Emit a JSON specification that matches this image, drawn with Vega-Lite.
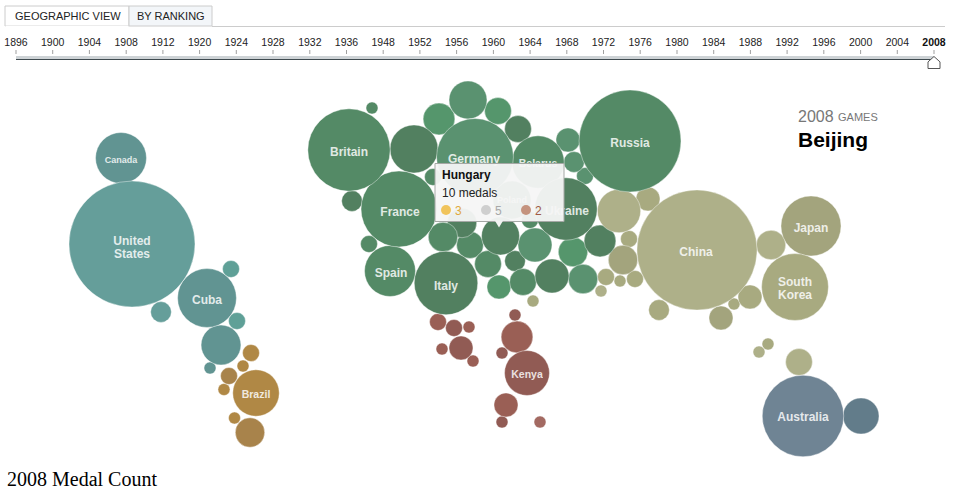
{
"$schema":"https://vega.github.io/schema/vega-lite/v6.json",
"width":955,"height":496,"padding":0,
"autosize":{"type":"fit","contains":"padding"},
"background":"#ffffff",
"view":{"stroke":null},
"config":{"text":{"font":"Liberation Sans"}},
"datasets":{
"bubbles":[
{"c":"Canada","g":"N2","x":121,"y":158,"m":18},
{"c":"United States","g":"N1","x":132,"y":244,"m":110},
{"c":"Dominican Republic","g":"N3","x":231,"y":269,"m":2},
{"c":"Mexico","g":"N1","x":161,"y":312,"m":3},
{"c":"Cuba","g":"N2","x":207,"y":298,"m":24},
{"c":"Trinidad","g":"N3","x":237,"y":321,"m":2},
{"c":"Jamaica","g":"N2","x":221,"y":345,"m":11},
{"c":"Panama","g":"N2","x":210,"y":368,"m":1},
{"c":"Colombia","g":"S1","x":251,"y":353,"m":2},
{"c":"Venezuela","g":"S1","x":243,"y":366,"m":1},
{"c":"Ecuador","g":"S2","x":229,"y":376,"m":2},
{"c":"Chile","g":"S1","x":224,"y":389.5,"m":1},
{"c":"Brazil","g":"S1","x":256,"y":393,"m":15},
{"c":"Paraguay","g":"S1","x":234.5,"y":418,"m":1},
{"c":"Argentina","g":"S2","x":250,"y":432.5,"m":6},
{"c":"Britain","g":"E2","x":349,"y":150,"m":47},
{"c":"Iceland","g":"E2","x":372,"y":108,"m":1},
{"c":"Ireland","g":"E3","x":352,"y":201,"m":3},
{"c":"France","g":"E2","x":399,"y":209,"m":40},
{"c":"Spain","g":"E2","x":390,"y":271,"m":18},
{"c":"Portugal","g":"E2","x":369,"y":244,"m":2},
{"c":"Netherlands","g":"E3","x":414,"y":149,"m":16},
{"c":"Belgium","g":"E2","x":433,"y":177,"m":2},
{"c":"Norway","g":"E1","x":468,"y":100,"m":10},
{"c":"Sweden","g":"E4","x":439,"y":119,"m":7},
{"c":"Finland","g":"E4","x":498,"y":111,"m":5},
{"c":"Estonia","g":"E3","x":518,"y":129,"m":5},
{"c":"Germany","g":"E1","x":475,"y":157,"m":41},
{"c":"Lithuania","g":"E1","x":568,"y":140,"m":4},
{"c":"Latvia","g":"E1","x":574,"y":162,"m":3},
{"c":"Slovakia Two","g":"E1","x":585,"y":176,"m":2},
{"c":"Belarus","g":"E2","x":538,"y":162,"m":19},
{"c":"Russia","g":"E2","x":630,"y":141,"m":72},
{"c":"Denmark","g":"E3","x":462,"y":223,"m":6},
{"c":"Poland","g":"E2","x":512,"y":200,"m":10},
{"c":"Slovakia","g":"E2","x":530,"y":220,"m":2},
{"c":"Ukraine","g":"E3","x":566,"y":209,"m":27},
{"c":"Switzerland","g":"E2","x":443,"y":237,"m":6},
{"c":"Austria","g":"E2","x":470,"y":245,"m":5},
{"c":"Hungary","g":"E3","x":500.5,"y":236,"m":10},
{"c":"Romania","g":"E1","x":535,"y":245,"m":8},
{"c":"Georgia","g":"E4","x":573,"y":252,"m":6},
{"c":"Azerbaijan","g":"E3","x":600,"y":241,"m":7},
{"c":"Slovenia","g":"E2","x":488,"y":264,"m":5},
{"c":"Croatia","g":"E3","x":515,"y":261,"m":3},
{"c":"Serbia","g":"E4","x":499,"y":287,"m":4},
{"c":"Bulgaria","g":"E2","x":523,"y":282,"m":5},
{"c":"Greece","g":"E3","x":552,"y":276,"m":8},
{"c":"Armenia","g":"E1","x":583,"y":279,"m":6},
{"c":"Italy","g":"E3","x":446,"y":283,"m":28},
{"c":"Turkey","g":"A2","x":533,"y":301,"m":1},
{"c":"China","g":"A1","x":697,"y":250,"m":100},
{"c":"Japan","g":"A3","x":811,"y":226,"m":25},
{"c":"South Korea","g":"A2","x":795,"y":287,"m":31},
{"c":"North Korea","g":"A1","x":771,"y":245,"m":6},
{"c":"Taiwan","g":"A2","x":750,"y":297,"m":4},
{"c":"Vietnam","g":"A2","x":734,"y":304,"m":1},
{"c":"Thailand","g":"A3","x":721,"y":318,"m":4},
{"c":"India","g":"A2","x":659,"y":310,"m":3},
{"c":"Kazakhstan","g":"A1","x":619,"y":211,"m":13},
{"c":"Mongolia","g":"A2","x":648,"y":199,"m":4},
{"c":"Kyrgyzstan","g":"A2","x":629,"y":239,"m":2},
{"c":"Uzbekistan","g":"A3","x":623,"y":260,"m":6},
{"c":"Iran","g":"A2","x":606,"y":277,"m":2},
{"c":"Tajikistan","g":"A2","x":620,"y":281,"m":1},
{"c":"Afghanistan","g":"A2","x":635,"y":279,"m":2},
{"c":"Israel","g":"A1","x":601,"y":291,"m":1},
{"c":"Malaysia","g":"A2","x":768,"y":344,"m":1},
{"c":"Singapore","g":"A1","x":759,"y":352,"m":1},
{"c":"Indonesia","g":"A1","x":799,"y":362,"m":5},
{"c":"Morocco","g":"F1","x":438,"y":322,"m":2},
{"c":"Algeria","g":"F2","x":454,"y":328,"m":2},
{"c":"Tunisia","g":"F1","x":469,"y":327,"m":1},
{"c":"Togo","g":"F1","x":442,"y":349,"m":1},
{"c":"Nigeria","g":"F2","x":461,"y":348,"m":4},
{"c":"Cameroon","g":"F1","x":473,"y":361,"m":1},
{"c":"Egypt","g":"F2","x":515,"y":315,"m":1},
{"c":"Ethiopia","g":"F1","x":517,"y":337,"m":7},
{"c":"Sudan","g":"F2","x":502,"y":353,"m":1},
{"c":"Kenya","g":"F2","x":527,"y":373,"m":14},
{"c":"Zimbabwe","g":"F1","x":506,"y":405,"m":4},
{"c":"South Africa","g":"F2","x":502,"y":422,"m":1},
{"c":"Mauritius","g":"F3","x":540,"y":422,"m":1},
{"c":"Australia","g":"O1","x":803,"y":416,"m":46},
{"c":"New Zealand","g":"O2","x":861,"y":416,"m":9}
],
"labels":[
{"t":"Canada","x":121,"y":160,"k":"s"},
{"t":"United\nStates","x":132,"y":241,"k":"m"},
{"t":"Cuba","x":207,"y":300,"k":"m"},
{"t":"Brazil","x":256,"y":395,"k":"b"},
{"t":"Britain","x":349,"y":152,"k":"m"},
{"t":"France","x":400,"y":212,"k":"m"},
{"t":"Spain","x":391,"y":273,"k":"m"},
{"t":"Italy","x":446,"y":286,"k":"m"},
{"t":"Germany","x":474,"y":159,"k":"m"},
{"t":"Belarus","x":538,"y":164,"k":"b"},
{"t":"Russia","x":630,"y":143,"k":"m"},
{"t":"Poland","x":512,"y":200,"k":"s"},
{"t":"Ukraine","x":567,"y":211,"k":"m"},
{"t":"China","x":696,"y":252,"k":"m"},
{"t":"Japan","x":811,"y":228,"k":"m"},
{"t":"South\nKorea","x":795,"y":282,"k":"m"},
{"t":"Australia","x":803,"y":417,"k":"m"},
{"t":"Kenya","x":527,"y":375,"k":"b"}
],
"years":[
{"year":"1896","p":16},{"year":"1900","p":52.7},{"year":"1904","p":89.4},{"year":"1908","p":126.2},{"year":"1912","p":162.9},{"year":"1920","p":199.6},{"year":"1924","p":236.3},{"year":"1928","p":273},{"year":"1932","p":309.8},{"year":"1936","p":346.5},{"year":"1948","p":383.2},{"year":"1952","p":419.9},{"year":"1956","p":456.6},{"year":"1960","p":493.4},{"year":"1964","p":530.1},{"year":"1968","p":566.8},{"year":"1972","p":603.5},{"year":"1976","p":640.2},{"year":"1980","p":677},{"year":"1984","p":713.7},{"year":"1988","p":750.4},{"year":"1992","p":787.1},{"year":"1996","p":823.8},{"year":"2000","p":860.6},{"year":"2004","p":897.3},{"year":"2008","p":934}
]
},
"layer":[
{"data":{"values":[{"a":5,"b":129,"t":6,"u":26,"f":"#ffffff"},{"a":129,"b":212,"t":6,"u":26,"f":"#f3f6f9"}]},
 "mark":{"type":"rect","stroke":"#cccccc","strokeWidth":1},
 "encoding":{"x":{"field":"a","type":"quantitative","scale":{"domain":[0,955],"nice":false},"axis":null},"x2":{"field":"b"},"y":{"field":"t","type":"quantitative","scale":{"domain":[0,496],"reverse":true,"nice":false},"axis":null},"y2":{"field":"u"},"fill":{"field":"f","type":"nominal","scale":null,"legend":null}}},
{"data":{"values":[{"a":212,"b":945,"y":26.5}]},
 "mark":{"type":"rule","stroke":"#cccccc","strokeWidth":1},
 "encoding":{"x":{"field":"a","type":"quantitative"},"x2":{"field":"b"},"y":{"field":"y","type":"quantitative"}}},
{"data":{"values":[{"a":5.5,"b":128.5,"y":26.5}]},
 "mark":{"type":"rule","stroke":"#ffffff","strokeWidth":1.5},
 "encoding":{"x":{"field":"a","type":"quantitative"},"x2":{"field":"b"},"y":{"field":"y","type":"quantitative"}}},
{"data":{"values":[{"t":"GEOGRAPHIC VIEW","x":15,"y":17},{"t":"BY RANKING","x":137,"y":17}]},
 "mark":{"type":"text","align":"left","baseline":"middle","fontSize":11,"fill":"#222222"},
 "encoding":{"x":{"field":"x","type":"quantitative"},"y":{"field":"y","type":"quantitative"},"text":{"field":"t"}}},
{"data":{"name":"years"},"transform":[{"filter":"datum.year!=='2008'"}],
 "mark":{"type":"text","align":"center","baseline":"middle","fontSize":10.5,"fill":"#222222","dy":0},
 "encoding":{"x":{"field":"p","type":"quantitative"},"y":{"datum":43,"type":"quantitative"},"text":{"field":"year"}}},
{"data":{"name":"years"},"transform":[{"filter":"datum.year==='2008'"}],
 "mark":{"type":"text","align":"center","baseline":"middle","fontSize":10.5,"fontWeight":"bold","fill":"#111111"},
 "encoding":{"x":{"field":"p","type":"quantitative"},"y":{"datum":43,"type":"quantitative"},"text":{"field":"year"}}},
{"data":{"name":"years"},
 "mark":{"type":"rule","stroke":"#777777","strokeWidth":0.7},
 "encoding":{"x":{"field":"p","type":"quantitative"},"y":{"datum":50,"type":"quantitative"},"y2":{"datum":54}}},
{"data":{"values":[{"a":16,"b":934,"t":56,"u":59}]},
 "mark":{"type":"rect","fill":"#ced3d6","stroke":null},
 "encoding":{"x":{"field":"a","type":"quantitative"},"x2":{"field":"b"},"y":{"field":"t","type":"quantitative"},"y2":{"field":"u"}}},
{"data":{"values":[{"a":16,"b":934,"y":59.5}]},
 "mark":{"type":"rule","stroke":"#3f4a50","strokeWidth":1},
 "encoding":{"x":{"field":"a","type":"quantitative"},"x2":{"field":"b"},"y":{"field":"y","type":"quantitative"}}},
{"data":{"values":[{"x":934,"y":62.5}]},
 "mark":{"type":"point","shape":"M0,-1 L1,-0.1 L1,1 L-1,1 L-1,-0.1 Z","size":144,"filled":true,"fill":"#ffffff","stroke":"#555555","strokeWidth":1,"opacity":1},
 "encoding":{"x":{"field":"x","type":"quantitative"},"y":{"field":"y","type":"quantitative"}}},
{"data":{"name":"bubbles"},
 "mark":{"type":"point","shape":"circle","filled":true,"opacity":1,"stroke":"#ffffff","strokeWidth":0.4},
 "encoding":{
  "x":{"field":"x","type":"quantitative"},
  "y":{"field":"y","type":"quantitative"},
  "size":{"field":"m","type":"quantitative","scale":{"domain":[0,110],"range":[0,15876],"zero":true},"legend":null},
  "color":{"field":"g","type":"nominal","legend":null,"scale":{
   "domain":["N1","N2","N3","S1","S2","E1","E2","E3","E4","A1","A2","A3","F1","F2","F3","O1","O2"],
   "range":["#659e9a","#619492","#5fa097","#b08845","#a8834b","#5a9270","#548a66","#528060","#55966c","#aeb089","#a8aa80","#a3a47d","#9a5f55","#915b54","#a36a62","#6f8494","#627c8a"]}},
  "order":{"field":"m","type":"quantitative","sort":"ascending"}}},
{"data":{"name":"labels"},"transform":[{"filter":"datum.k==='m'"}],
 "mark":{"type":"text","align":"center","baseline":"middle","fontSize":12,"fontWeight":"bold","fill":"#ffffff","opacity":0.82,"lineBreak":"\n","lineHeight":13},
 "encoding":{"x":{"field":"x","type":"quantitative"},"y":{"field":"y","type":"quantitative"},"text":{"field":"t"}}},
{"data":{"name":"labels"},"transform":[{"filter":"datum.k==='b'"}],
 "mark":{"type":"text","align":"center","baseline":"middle","fontSize":10.5,"fontWeight":"bold","fill":"#ffffff","opacity":0.82},
 "encoding":{"x":{"field":"x","type":"quantitative"},"y":{"field":"y","type":"quantitative"},"text":{"field":"t"}}},
{"data":{"name":"labels"},"transform":[{"filter":"datum.k==='s'"}],
 "mark":{"type":"text","align":"center","baseline":"middle","fontSize":9,"fontWeight":"bold","fill":"#ffffff","opacity":0.82},
 "encoding":{"x":{"field":"x","type":"quantitative"},"y":{"field":"y","type":"quantitative"},"text":{"field":"t"}}},
{"data":{"values":[{"a":435,"b":564,"t":163.5,"u":221.5}]},
 "mark":{"type":"rect","fill":"#f5f6f5","fillOpacity":0.95,"stroke":"#a5a8a5","strokeWidth":1},
 "encoding":{"x":{"field":"a","type":"quantitative"},"x2":{"field":"b"},"y":{"field":"t","type":"quantitative"},"y2":{"field":"u"}}},
{"data":{"values":[{"x":499,"y":224}]},
 "mark":{"type":"point","shape":"triangle-down","size":70,"filled":true,"fill":"#f2f3f2","opacity":1},
 "encoding":{"x":{"field":"x","type":"quantitative"},"y":{"field":"y","type":"quantitative"}}},
{"data":{"values":[{"t":"Hungary","x":442,"y":175}]},
 "mark":{"type":"text","align":"left","baseline":"middle","fontSize":12,"fontWeight":"bold","fill":"#111111"},
 "encoding":{"x":{"field":"x","type":"quantitative"},"y":{"field":"y","type":"quantitative"},"text":{"field":"t"}}},
{"data":{"values":[{"t":"10 medals","x":442,"y":192.5}]},
 "mark":{"type":"text","align":"left","baseline":"middle","fontSize":12,"fill":"#222222"},
 "encoding":{"x":{"field":"x","type":"quantitative"},"y":{"field":"y","type":"quantitative"},"text":{"field":"t"}}},
{"data":{"values":[{"x":446,"y":210,"f":"#f1c45c"},{"x":486,"y":210,"f":"#cfcfcf"},{"x":526,"y":210,"f":"#c4937e"}]},
 "mark":{"type":"point","shape":"circle","size":100,"filled":true,"opacity":1},
 "encoding":{"x":{"field":"x","type":"quantitative"},"y":{"field":"y","type":"quantitative"},"fill":{"field":"f","type":"nominal","scale":null,"legend":null}}},
{"data":{"values":[{"t":"3","x":455,"y":211,"f":"#e0a93c"},{"t":"5","x":495,"y":211,"f":"#a8a8a8"},{"t":"2","x":535,"y":211,"f":"#a05a45"}]},
 "mark":{"type":"text","align":"left","baseline":"middle","fontSize":12},
 "encoding":{"x":{"field":"x","type":"quantitative"},"y":{"field":"y","type":"quantitative"},"text":{"field":"t"},"fill":{"field":"f","type":"nominal","scale":null,"legend":null}}},
{"data":{"values":[{"t":"2008","x":798,"y":117}]},
 "mark":{"type":"text","align":"left","baseline":"middle","fontSize":16,"fill":"#777777"},
 "encoding":{"x":{"field":"x","type":"quantitative"},"y":{"field":"y","type":"quantitative"},"text":{"field":"t"}}},
{"data":{"values":[{"t":"GAMES","x":838,"y":118}]},
 "mark":{"type":"text","align":"left","baseline":"middle","fontSize":11,"fill":"#777777"},
 "encoding":{"x":{"field":"x","type":"quantitative"},"y":{"field":"y","type":"quantitative"},"text":{"field":"t"}}},
{"data":{"values":[{"t":"Beijing","x":798,"y":141}]},
 "mark":{"type":"text","align":"left","baseline":"middle","fontSize":21,"fontWeight":"bold","fill":"#000000"},
 "encoding":{"x":{"field":"x","type":"quantitative"},"y":{"field":"y","type":"quantitative"},"text":{"field":"t"}}},
{"data":{"values":[{"t":"2008 Medal Count","x":7,"y":480}]},
 "mark":{"type":"text","align":"left","baseline":"middle","fontSize":20,"font":"Liberation Serif","fill":"#000000"},
 "encoding":{"x":{"field":"x","type":"quantitative"},"y":{"field":"y","type":"quantitative"},"text":{"field":"t"}}}
]
}
